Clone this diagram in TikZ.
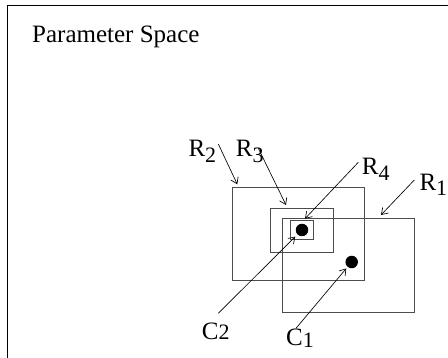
\documentclass[tikz,border=0pt]{standalone}
\usepackage{fontspec}
\setmainfont{Liberation Serif}
\usetikzlibrary{arrows.meta}

% label with a lowered index
\newcommand{\sublabel}[3]{#1\raisebox{-#3}{\fontsize{22pt}{22pt}\selectfont #2}}

\begin{document}
\begin{tikzpicture}[x=1pt, y=-1pt,
    every node/.style={inner sep=0pt, font=\fontsize{25pt}{25pt}\selectfont},
    region/.style={draw=black!70, line width=0.9pt},
    pointer/.style={-{Straight Barb[length=6pt,width=8pt]}, line width=0.65pt},
    centre/.style={circle, fill=black, minimum size=12.5pt}]
      \useasboundingbox (0,0) rectangle (448,358);
      % Frame of the parameter space
      \draw[line width=0.8pt] (7,358) -- (7,5.5) -- (448,5.5);
      \node[anchor=base west] (title) at (32,43) {Parameter Space};
      % Regions
      \draw[region] (232.7,187.3) rectangle (364,280.7);
      \draw[region] (270.3,208.7) rectangle (333,252);
      \draw[region] (282.7,218.7) rectangle (414.3,312);
      \draw[region] (290.3,220.7) rectangle (313,239.3);
      % Centres
      \node[centre] (c2) at (302,230) {};
      \node[centre] (c1) at (351.7,262) {};
      % Labels
      \node[anchor=base west] (lr2) at (188.3,156.7) {\sublabel{R}{2}{6pt}};
      \node[anchor=base west] (lr3) at (235.7,156.7) {\sublabel{R}{3}{6pt}};
      \node[anchor=base west] (lr4) at (361.7,175) {\sublabel{R}{4}{6pt}};
      \node[anchor=base west] (lr1) at (419.3,191) {\sublabel{R}{1}{5pt}};
      \node[anchor=base west] (lc2) at (201.7,340) {\sublabel{C}{2}{0pt}};
      \node[anchor=base west] (lc1) at (286,345.7) {\sublabel{C}{1}{2pt}};
      % Arrow ends
      \coordinate (sr2) at (218.3,144);
      \coordinate (tr2) at (237.3,184.3);
      \coordinate (sr3) at (258.3,148.3);
      \coordinate (tr3) at (286,205);
      \coordinate (sr4) at (358.3,162.3);
      \coordinate (tr4) at (305,218.7);
      \coordinate (sr1) at (414.3,180);
      \coordinate (tr1) at (381,215);
      \coordinate (sc2) at (218.3,313.3);
      \coordinate (sc1) at (296,328.3);
      % Pointers
      \draw[pointer] (sr2) -- (tr2);
      \draw[pointer] (sr3) -- (tr3);
      \draw[pointer] (sr4) -- (tr4);
      \draw[pointer] (sr1) -- (tr1);
      \draw[pointer, shorten >=3pt] (sc2) -- (c2);
      \draw[pointer, shorten >=2pt] (sc1) -- (c1);
\end{tikzpicture}
\end{document}
